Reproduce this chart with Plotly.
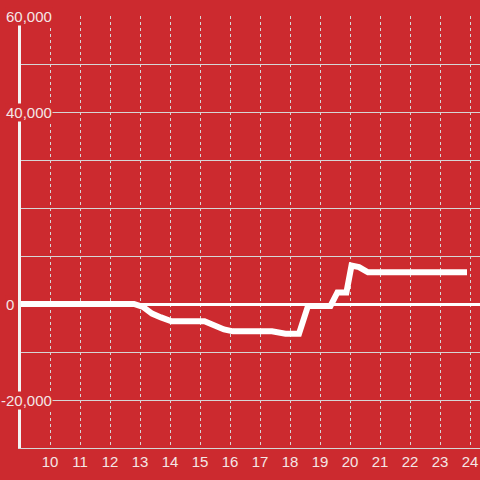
import plotly.graph_objects as go

# Data
hours = [9.0, 12.8, 13.1, 13.4, 13.7, 14.05, 15.15, 15.5, 15.8, 16.1, 17.4, 17.85, 18.3, 18.6,
         19.35, 19.58, 19.88, 20.05, 20.3, 20.6, 23.9]
values = [0, 0, -600, -2000, -2800, -3600, -3600, -4700, -5300, -5700, -5700, -6200, -6200, -400,
          -400, 2400, 2400, 8000, 7700, 6600, 6600]

x_ticks = list(range(10, 25))
y_label_vals = [60000, 40000, 0, -20000]
y_label_text = ["60,000", "40,000", "0", "-20,000"]

BG = "#cc2a2f"
TXT = "#f4e6e6"
GRID = "#d6d6d6"

fig = go.Figure()
fig.add_trace(go.Scatter(x=hours, y=values, mode="lines",
                         line=dict(color="white", width=6), hoverinfo="skip"))

ML, MR, MT, MB = 21, 0, 16, 32
W = H = 480
pw = W - ML - MR

# y labels as annotations with background (covering grid/axis line like the original)
for v, t in zip(y_label_vals, y_label_text):
    if v < 0:
        px, anchor = 53, "right"
    else:
        px, anchor = 5, "left"
    fig.add_annotation(x=(px - ML) / pw, xref="paper", y=v, yref="y", text=t,
                       showarrow=False, xanchor=anchor, yanchor="middle",
                       font=dict(family="Liberation Sans, Arial, sans-serif", size=15, color=TXT),
                       bgcolor=BG, borderpad=0)

fig.update_layout(
    width=W, height=H,
    margin=dict(l=ML, r=MR, t=MT, b=MB),
    paper_bgcolor=BG, plot_bgcolor=BG,
    showlegend=False,
    xaxis=dict(range=[10 - 29 / 30, 10 + 430 / 30], tickvals=x_ticks,
               ticktext=[str(v) for v in x_ticks],
               showgrid=True, gridcolor=GRID, gridwidth=1, griddash="3px,3px",
               zeroline=False, showline=True, linecolor=GRID, linewidth=1,
               ticks="", ticklen=0,
               tickfont=dict(family="Liberation Sans, Arial, sans-serif", size=15, color=TXT)),
    yaxis=dict(range=[-30000, 60000], dtick=10000, tick0=0,
               showticklabels=False, ticks="",
               showgrid=True, gridcolor=GRID, gridwidth=1,
               zeroline=True, zerolinecolor="white", zerolinewidth=3,
               showline=True, linecolor="#f4f4f4", linewidth=3),
)

fig.write_html("out.html", config={"displayModeBar": False},
               post_script="document.body.style.margin='0';document.body.style.background='%s';" % BG)
